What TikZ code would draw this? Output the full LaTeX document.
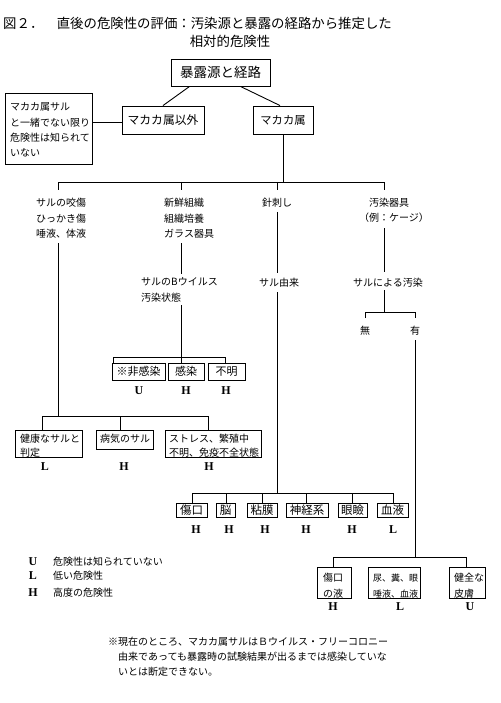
\documentclass[tikz,border=0pt]{standalone}
\usepackage{fontspec}
\setmainfont{Noto Sans CJK JP}
\newfontfamily\lvlf{Liberation Serif}
\newcommand\fsz[1]{\fontsize{#1}{#1}\selectfont}
\newcommand\mlines[3]{{\fontsize{#1}{#2}\selectfont\begin{tabular}[t]{@{}l@{}}#3\end{tabular}}}
\tikzset{
  box/.style={draw, line width=0.9pt, inner sep=0pt},
  txt/.style={inner sep=0pt, anchor=base west, font=\fsz{10}},
  ctxt/.style={inner sep=0pt, anchor=base, font=\fsz{10}},
  lvl/.style={inner sep=0pt, anchor=base, font=\lvlf\bfseries\fsz{12}},
  ln/.style={line width=0.9pt}
}
\begin{document}
\begin{tikzpicture}[x=1pt,y=-1pt]
\fill[white] (0,0) rectangle (500,703);
\useasboundingbox (0,0) rectangle (500,703);
% title
\node[txt, font=\fsz{13.4}] (title1) at (3,29) {図２．　直後の危険性の評価：汚染源と暴露の経路から推定した};
\node[ctxt, font=\fsz{13.4}] (title2) at (230,47) {相対的危険性};
% top
\node[box, minimum width=99pt, minimum height=27pt, font=\fsz{13.5}] (src) at (220.5,72.5) {暴露源と経路};
\node[box, minimum width=82pt, minimum height=28pt, font=\fsz{11.8}] (nonmac) at (163,120) {マカカ属以外};
\node[box, minimum width=60pt, minimum height=28pt, font=\fsz{11.3}] (mac) at (283,120) {マカカ属};
\node[box, minimum width=87pt, minimum height=71pt] (note) at (48.5,128.5) {};
\node[txt] (notet) at (10,111) {\mlines{10}{15.3}{マカカ属サル\\と一緒でない限り\\危険性は知られて\\いない}};
\draw[ln] ([xshift=19pt]src.south west) -- (nonmac.north);
\draw[ln] ([xshift=-30pt]src.south east) -- ([xshift=-3pt]mac.north);
\draw[ln] ([yshift=-2pt]nonmac.west) -- ([yshift=-2pt]nonmac.west -| note.east);
% trunk
\coordinate (a0) at (58,182);
\coordinate (a1) at (181,182);
\coordinate (a2) at (277,182);
\coordinate (a3) at (384,182);
\coordinate (a4) at (283,182);
\draw[ln] (mac.south) -- (a4);
\draw[ln] ([yshift=-8pt]a0) -- (a0) -- (a3) -- ([yshift=-8pt]a3);
\draw[ln] (a1) -- ([yshift=-8pt]a1);
\draw[ln] (a2) -- ([yshift=-8pt]a2);
% column 1
\node[txt] (t1) at (36,207) {\mlines{10}{15.5}{サルの咬傷\\ひっかき傷\\唾液、体液}};
\coordinate (c1a) at (58,243);
\coordinate (c1b) at (58,416);
\draw[ln] (c1a) -- (c1b);
\coordinate (r1l) at (42,416);
\coordinate (r1m) at (120,416);
\coordinate (r1r) at (208,416);
\draw[ln] (r1l) -- (r1r);
\node[box, minimum width=67pt, minimum height=27pt] (h1) at (48.5,443.5) {};
\node[box, minimum width=57pt, minimum height=19pt] (h2) at (124.5,439.5) {};
\node[box, minimum width=96pt, minimum height=27pt] (h3) at (213,443.5) {};
\draw[ln] (r1l) -- (h1.north -| r1l);
\draw[ln] (r1m) -- (h2.north -| r1m);
\draw[ln] (r1r) -- (h3.north -| r1r);
\node[txt] (h1t) at (20,442) {\mlines{10}{14}{健康なサルと\\判定}};
\node[txt] (h2t) at (100,442) {病気のサル};
\node[txt] (h3t) at (169,442) {\mlines{10}{14}{ストレス、繁殖中\\不明、免疫不全状態}};
\node[lvl] (h1l) at (45,470) {L};
\node[lvl] (h2l) at (124,470) {H};
\node[lvl] (h3l) at (209,470) {H};
% column 2
\node[txt] (t2) at (164,207) {\mlines{10}{15.5}{新鮮組織\\組織培養\\ガラス器具}};
\coordinate (c2a) at (181,243);
\coordinate (c2b) at (181,274);
\draw[ln] (c2a) -- (c2b);
\node[txt] (t2b) at (141,285) {\mlines{10}{16}{サルのBウイルス\\汚染状態}};
\coordinate (c2c) at (181,305);
\coordinate (c2d) at (181,357);
\draw[ln] (c2c) -- (c2d);
\coordinate (r2l) at (113,357);
\coordinate (r2r) at (225,357);
\draw[ln] (r2l) -- (r2r);
\node[box, minimum width=53pt, minimum height=17pt, font=\fsz{11}] (i1) at (138.5,371.5) {※非感染};
\node[box, minimum width=36pt, minimum height=17pt, font=\fsz{11}] (i2) at (186,371.5) {感染};
\node[box, minimum width=37pt, minimum height=17pt, font=\fsz{11}] (i3) at (226.5,371.5) {不明};
\draw[ln] (r2l) -- (i1.north -| r2l);
\draw[ln] (c2d) -- (i2.north -| c2d);
\draw[ln] (r2r) -- (i3.north -| r2r);
\node[lvl] (i1l) at (139,394) {U};
\node[lvl] (i2l) at (186,394) {H};
\node[lvl] (i3l) at (226,394) {H};
% column 3
\node[ctxt] (t3) at (277,207) {針刺し};
\coordinate (c3a) at (277,212);
\coordinate (c3b) at (277,273);
\draw[ln] (c3a) -- (c3b);
\node[ctxt] (t3b) at (279,286) {サル由来};
\coordinate (c3c) at (277,292);
\coordinate (c3d) at (277,493);
\draw[ln] (c3c) -- (c3d);
\coordinate (r3a) at (192,493);
\coordinate (r3b) at (226,493);
\coordinate (r3c) at (262,493);
\coordinate (r3d) at (306,493);
\coordinate (r3e) at (352,493);
\coordinate (r3f) at (393,493);
\draw[ln] (r3a) -- (r3f);
\node[box, minimum width=31pt, minimum height=14pt, font=\fsz{11.5}] (s1) at (191.5,510) {傷口};
\node[box, minimum width=19pt, minimum height=14pt, font=\fsz{11.5}] (s2) at (225.5,510) {脳};
\node[box, minimum width=30pt, minimum height=14pt, font=\fsz{11.5}] (s3) at (262,510) {粘膜};
\node[box, minimum width=42pt, minimum height=14pt, font=\fsz{11.5}] (s4) at (307,510) {神経系};
\node[box, minimum width=29pt, minimum height=14pt, font=\fsz{11.5}] (s5) at (352.5,510) {眼瞼};
\node[box, minimum width=31pt, minimum height=14pt, font=\fsz{11.5}] (s6) at (392.5,510) {血液};
\draw[ln] (r3a) -- (s1.north -| r3a);
\draw[ln] (r3b) -- (s2.north -| r3b);
\draw[ln] (r3c) -- (s3.north -| r3c);
\draw[ln] (r3d) -- (s4.north -| r3d);
\draw[ln] (r3e) -- (s5.north -| r3e);
\draw[ln] (r3f) -- (s6.north -| r3f);
\node[lvl] (s1l) at (196,533) {H};
\node[lvl] (s2l) at (229,533) {H};
\node[lvl] (s3l) at (265,533) {H};
\node[lvl] (s4l) at (306,533) {H};
\node[lvl] (s5l) at (352,533) {H};
\node[lvl] (s6l) at (393,533) {L};
% column 4
\node[ctxt] (t4) at (389,207) {汚染器具};
\node[ctxt] (t4b) at (394,222) {（例：ケージ）};
\coordinate (c4a) at (384,228);
\coordinate (c4b) at (384,272);
\draw[ln] (c4a) -- (c4b);
\node[ctxt] (t4c) at (388,286) {サルによる汚染};
\coordinate (c4c) at (384,290);
\coordinate (c4d) at (384,312);
\draw[ln] (c4c) -- (c4d);
\coordinate (r4l) at (365,312);
\coordinate (r4r) at (415,312);
\draw[ln] ([yshift=-6pt]r4l) -- (r4l) -- (r4r) -- ([yshift=-6pt]r4r);
\node[ctxt] (no) at (365,334) {無};
\node[ctxt] (yes) at (415,334) {有};
\coordinate (c4e) at (415,340);
\coordinate (c4f) at (415,557);
\draw[ln] (c4e) -- (c4f);
\coordinate (r5l) at (333,557);
\coordinate (r5r) at (466,557);
\draw[ln] (r5l) -- (r5r);
\node[box, minimum width=34pt, minimum height=31pt] (u1) at (334,582.5) {};
\node[box, minimum width=52pt, minimum height=31pt] (u2) at (394,582.5) {};
\node[box, minimum width=36pt, minimum height=31pt] (u3) at (467,582.5) {};
\draw[ln] (r5l) -- (u1.north -| r5l);
\draw[ln] (r5r) -- (u3.north -| r5r);
\node[txt] (u1t) at (323,581) {\mlines{10}{16}{傷口\\の液}};
\node[txt] (u2t) at (373,581) {\mlines{9}{16}{尿、糞、眼\\唾液、血液}};
\node[txt] (u3t) at (454,581) {\mlines{10}{16}{健全な\\皮膚}};
\node[lvl] (u1l) at (333,610) {H};
\node[lvl] (u2l) at (400,610) {L};
\node[lvl] (u3l) at (470,610) {U};
% legend
\node[lvl] (kU) at (33,565) {U};
\node[lvl] (kL) at (33,579) {L};
\node[lvl] (kH) at (33,596) {H};
\node[txt] (kUt) at (53,565) {危険性は知られていない};
\node[txt] (kLt) at (53,579) {低い危険性};
\node[txt] (kHt) at (53,596) {高度の危険性};
% footnote
\node[txt] (f1) at (108,645) {※現在のところ、マカカ属サルはＢウイルス・フリーコロニー};
\node[txt] (f2) at (118,660) {由来であっても暴露時の試験結果が出るまでは感染していな};
\node[txt] (f3) at (118,675) {いとは断定できない。};
\end{tikzpicture}
\end{document}
